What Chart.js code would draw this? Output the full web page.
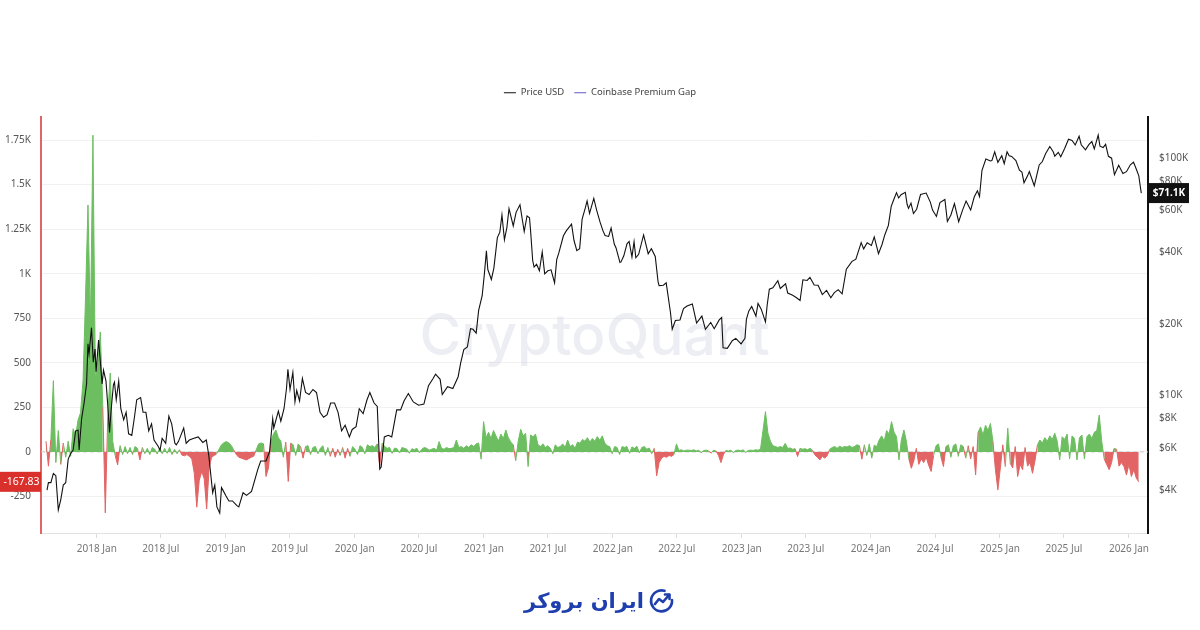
<!DOCTYPE html>
<html lang="en">
<head>
<meta charset="UTF-8">
<title>Coinbase Premium Gap - Price USD</title>
<script src="https://cdn.jsdelivr.net/npm/chart.js"></script>
<style>
  body { margin: 0; background: #fff; }
  .wrap { position: relative; width: 1200px; height: 630px; }
  .brand {
    position: absolute; left: 0; top: 587px; width: 1200px;
    display: flex; justify-content: center; align-items: center; gap: 4px;
    direction: rtl; color: #1f3fae;
    font-family: "DejaVu Sans", sans-serif; font-weight: bold; font-size: 21px;
  }
</style>
</head>
<body>
<div class="wrap">
  <canvas id="premium_gap" width="1200" height="630"></canvas>
  <div class="brand">
    <svg width="28" height="28" viewBox="0 0 28 28" fill="none" stroke="#1f3fae" stroke-width="2.6" stroke-linecap="round" stroke-linejoin="round">
      <path d="M24 13A10.5 10.5 0 1 1 16.5 3.8"/>
      <path d="M7 17l4-5 4 3 6-7"/>
      <path d="M17 7.5h4.5v4.5"/>
    </svg>
    <span>ایران بروکر</span>
  </div>
</div>
<script>
// BTC price (USD)
const priceDates = [
  '2017-08-13','2017-08-17','2017-08-24','2017-08-31','2017-09-07','2017-09-14','2017-09-21','2017-09-28',
  '2017-10-05','2017-10-12','2017-10-19','2017-10-26','2017-11-02','2017-11-09','2017-11-12','2017-11-19',
  '2017-11-26','2017-12-03','2017-12-07','2017-12-10','2017-12-17','2017-12-22','2017-12-27','2017-12-30',
  '2018-01-06','2018-01-10','2018-01-16','2018-01-20','2018-01-27','2018-02-01','2018-02-06','2018-02-10',
  '2018-02-17','2018-02-20','2018-02-25','2018-03-04','2018-03-10','2018-03-18','2018-03-25','2018-04-01',
  '2018-04-10','2018-04-18','2018-04-24','2018-05-05','2018-05-12','2018-05-20','2018-05-28','2018-06-05',
  '2018-06-12','2018-06-24','2018-06-29','2018-07-05','2018-07-15','2018-07-24','2018-08-01','2018-08-10',
  '2018-08-14','2018-08-20','2018-09-04','2018-09-11','2018-09-20','2018-10-01','2018-10-15','2018-10-28',
  '2018-11-07','2018-11-14','2018-11-20','2018-11-25','2018-12-01','2018-12-07','2018-12-15','2018-12-20',
  '2018-12-24','2019-01-01','2019-01-10','2019-01-20','2019-02-01','2019-02-07','2019-02-19','2019-03-01',
  '2019-03-15','2019-04-02','2019-04-10','2019-04-25','2019-05-05','2019-05-14','2019-05-17','2019-05-30',
  '2019-06-06','2019-06-15','2019-06-22','2019-06-26','2019-07-02','2019-07-10','2019-07-16','2019-07-21',
  '2019-07-29','2019-08-06','2019-08-15','2019-08-25','2019-09-05','2019-09-15','2019-09-25','2019-10-05',
  '2019-10-15','2019-10-25','2019-11-05','2019-11-15','2019-11-25','2019-12-05','2019-12-17','2019-12-25',
  '2020-01-05','2020-01-14','2020-01-25','2020-02-05','2020-02-13','2020-02-25','2020-03-05','2020-03-12',
  '2020-03-16','2020-03-25','2020-04-05','2020-04-15','2020-04-29','2020-05-10','2020-05-20','2020-06-01',
  '2020-06-15','2020-06-30','2020-07-15','2020-07-28','2020-08-10','2020-08-17','2020-08-30','2020-09-05',
  '2020-09-20','2020-10-05','2020-10-20','2020-10-27','2020-11-05','2020-11-15','2020-11-24','2020-12-01',
  '2020-12-10','2020-12-17','2020-12-27','2021-01-02','2021-01-08','2021-01-12','2021-01-22','2021-01-29',
  '2021-02-08','2021-02-15','2021-02-21','2021-02-28','2021-03-07','2021-03-13','2021-03-25','2021-04-02',
  '2021-04-13','2021-04-25','2021-05-03','2021-05-10','2021-05-13','2021-05-19','2021-05-23','2021-05-30',
  '2021-06-07','2021-06-15','2021-06-22','2021-07-01','2021-07-10','2021-07-20','2021-07-26','2021-08-01',
  '2021-08-14','2021-08-22','2021-09-06','2021-09-13','2021-09-21','2021-09-29','2021-10-06','2021-10-15',
  '2021-10-20','2021-10-27','2021-11-08','2021-11-16','2021-11-26','2021-12-04','2021-12-10','2021-12-20',
  '2021-12-27','2022-01-05','2022-01-10','2022-01-21','2022-01-24','2022-02-01','2022-02-10','2022-02-16',
  '2022-02-24','2022-03-02','2022-03-07','2022-03-15','2022-03-29','2022-04-11','2022-04-20','2022-05-01',
  '2022-05-09','2022-05-12','2022-05-24','2022-06-01','2022-06-13','2022-06-18','2022-06-27','2022-07-10',
  '2022-07-20','2022-07-30','2022-08-14','2022-08-26','2022-09-10','2022-09-20','2022-10-05','2022-10-15',
  '2022-10-29','2022-11-05','2022-11-09','2022-11-21','2022-12-05','2022-12-15','2022-12-30','2023-01-10',
  '2023-01-14','2023-01-21','2023-01-29','2023-02-10','2023-02-16','2023-02-25','2023-03-09','2023-03-14',
  '2023-03-20','2023-03-30','2023-04-13','2023-04-20','2023-05-05','2023-05-11','2023-05-25','2023-06-05',
  '2023-06-15','2023-06-23','2023-07-05','2023-07-13','2023-07-25','2023-08-05','2023-08-17','2023-08-29',
  '2023-09-10','2023-09-20','2023-10-01','2023-10-12','2023-10-24','2023-11-09','2023-11-20','2023-12-05',
  '2023-12-12','2023-12-22','2024-01-03','2024-01-11','2024-01-23','2024-02-02','2024-02-10','2024-02-20',
  '2024-02-28','2024-03-05','2024-03-14','2024-03-20','2024-03-27','2024-04-08','2024-04-13','2024-04-17',
  '2024-04-24','2024-05-01','2024-05-10','2024-05-21','2024-06-06','2024-06-18','2024-06-24','2024-07-05',
  '2024-07-15','2024-07-29','2024-08-05','2024-08-15','2024-08-25','2024-09-06','2024-09-17','2024-09-27',
  '2024-10-10','2024-10-20','2024-10-29','2024-11-04','2024-11-11','2024-11-22','2024-12-05','2024-12-09',
  '2024-12-17','2024-12-26','2025-01-06','2025-01-13','2025-01-21','2025-01-27','2025-02-03','2025-02-15',
  '2025-02-25','2025-03-04','2025-03-10','2025-03-20','2025-03-25','2025-04-08','2025-04-15','2025-04-22',
  '2025-05-01','2025-05-10','2025-05-22','2025-06-01','2025-06-05','2025-06-15','2025-06-22','2025-07-03',
  '2025-07-14','2025-07-24','2025-08-02','2025-08-13','2025-08-19','2025-08-31','2025-09-10','2025-09-18',
  '2025-09-25','2025-10-06','2025-10-11','2025-10-20','2025-10-27','2025-11-04','2025-11-13','2025-11-21',
  '2025-12-03','2025-12-15','2025-12-25','2026-01-05','2026-01-14','2026-01-22','2026-01-29','2026-02-01',
  '2026-02-05'
];
const priceValues = [
  4000, 4300, 4300, 4700, 4600, 3300, 3650, 4200,
  4300, 5400, 5700, 5900, 7100, 7150, 5900, 8000,
  9300, 11200, 16500, 15000, 19300, 13800, 15700, 12600,
  17100, 14500, 11200, 12800, 11500, 9100, 7000, 8500,
  11100, 11400, 9600, 11500, 8800, 7900, 8500, 6900,
  6800, 8200, 9600, 9800, 8500, 8500, 7100, 7600,
  6500, 6100, 5900, 6600, 6300, 8200, 7600, 6300,
  6200, 6400, 7300, 6300, 6500, 6600, 6700, 6350,
  6500, 5600, 4600, 3900, 4200, 3400, 3200, 4100,
  4000, 3800, 3600, 3600, 3450, 3400, 3900, 3800,
  3950, 4900, 5300, 5300, 5800, 8000, 7300, 8600,
  7800, 8800, 10700, 12900, 10600, 12500, 9400, 10500,
  9500, 11800, 10300, 10100, 10600, 10300, 8500, 8100,
  8300, 9300, 9300, 8500, 7100, 7500, 6700, 7200,
  7400, 8800, 8400, 9600, 10300, 9300, 9000, 4900,
  5000, 6700, 6800, 6700, 8700, 8700, 9500, 10200,
  9400, 9100, 9200, 11000, 11800, 12300, 11700, 10100,
  10900, 10700, 12000, 13700, 15600, 16000, 19100, 19000,
  18300, 22800, 26300, 32200, 40600, 33900, 30800, 34300,
  46200, 48700, 57500, 45200, 51000, 61200, 51700, 59000,
  63500, 49000, 57000, 56000, 49500, 37000, 34700, 35700,
  33500, 40200, 32500, 33500, 33800, 29800, 37300, 39800,
  47000, 49300, 52600, 44900, 40700, 41500, 55300, 61600,
  65900, 58400, 67500, 60300, 53500, 49300, 47100, 46700,
  50700, 43400, 41800, 36300, 36500, 38700, 43500, 44500,
  38300, 44400, 38000, 39300, 47400, 39500, 41500, 38500,
  30100, 29000, 29100, 29800, 22400, 19000, 20700, 20800,
  23200, 23800, 24300, 20200, 21600, 19000, 20300, 19100,
  20800, 21300, 15900, 15800, 17000, 17400, 16500, 17400,
  20900, 22700, 23700, 21600, 24400, 23100, 20400, 24100,
  28000, 28400, 30400, 28200, 29500, 27000, 26400, 25800,
  25100, 30700, 30500, 31400, 29200, 29100, 26600, 27700,
  25800, 27100, 27900, 26800, 34000, 36700, 37500, 44000,
  41400, 43900, 42800, 46500, 39500, 43200, 47500, 52000,
  62500, 66000, 71400, 67800, 70000, 71600, 63800, 61300,
  64500, 58300, 60800, 70100, 71100, 65000, 60300, 56700,
  64800, 66800, 54000, 57500, 64200, 53900, 60300, 65800,
  60300, 68400, 72700, 68800, 88700, 98900, 97000, 97400,
  106100, 95800, 102100, 94500, 106100, 102000, 101400, 97500,
  88700, 87200, 78600, 84000, 87500, 76300, 84500, 93400,
  96500, 104000, 111600, 105800, 101600, 105500, 101000, 109500,
  119800, 118400, 113300, 123300, 113500, 108200, 113900, 117100,
  109000, 124700, 112000, 110500, 114000, 101500, 99700, 85000,
  93000, 86000, 87500, 93500, 96000, 89500, 84000, 78000,
  71100
];

// Coinbase Premium Gap, one reading per week from gapStart
const gapStart = '2017-08-10';
const gapValues = [
  60, -80, 70, 400, -60, 120, -70, 50, -30, 60, -25, 130, 90, 180, 220, 400, 863, 1385, 700, 1777, 400, 500, 673, 250, -342, 200,
  443, 60, -20, -73, 35, -15, 30, -10, 25, -15, 30, 20, -45, 25, -10, 20, -15, 25, 15, -12, 22, -10, 20, -8, 25, -15,
  15, -10, 12, -18, -22, -15, -25, -40, -120, -310, -160, -110, -150, -320, -90, -30, -20, -12, 15, 40, 52, 58, 50, 35, 10, -15,
  -30, -35, -40, -45, -38, -30, -25, 10, 45, 50, 45, -138, -90, 60, 100, 123, 80, 60, -30, 55, -166, 50, 40, -20, 45, 30,
  -35, 30, 35, -15, 25, 30, -10, 20, 35, -20, 25, -25, 20, -30, 15, -20, 25, -35, 20, -25, 30, 15, -15, 35, 25, -10,
  40, 30, 35, 25, 45, -80, 50, 30, 20, 25, -8, 22, 18, -5, 25, 20, 15, -8, 18, 12, 20, -5, 15, 25, 20, 10,
  15, 20, 10, 58, 20, 15, 25, 18, 20, 25, 67, 25, 30, 20, 35, 25, 40, 30, 45, 50, -41, 170, 80, 110, 75, 120,
  90, 60, 100, 75, 123, 80, 55, 40, -49, 60, 127, 90, 105, -82, 95, 85, 100, 40, 30, 45, 25, 35, 20, -10, 40, 25,
  30, 45, 25, 67, 30, 40, 20, 55, 48, 70, 60, 80, 55, 75, 60, 86, 65, 90, 50, 35, 30, -10, 30, 25, -15, 30,
  25, 30, -8, 28, 20, 32, -5, 25, 30, 15, 22, -10, 20, -134, -60, -35, -25, -30, -20, -25, -15, 45, 8, 12, 5, 10,
  10, 8, 12, 5, 10, -5, 8, 10, 6, -8, 10, 5, -20, -60, -15, 8, 5, 10, -5, 8, 10, 6, 12, -4, 8, 10,
  8, 12, 10, 15, 120, 226, 105, 60, 35, 30, 25, 30, 25, 48, 20, 22, 15, 18, -26, 20, 15, 18, 12, 20, 10, -17,
  -30, -45, -25, -35, -20, 15, 25, 30, 20, 32, 25, 30, 28, 35, 25, 30, 40, 35, -41, 40, -20, 45, -35, 38, 30, 67,
  90, 60, 120, 100, 170, 110, 86, -45, 70, 123, 60, -40, -92, -50, 20, -70, -40, -60, -30, -75, -110, -20, 35, 45, -30, -82,
  30, 40, -30, 35, 45, -25, 40, 30, -35, 35, -40, 30, -129, 110, 140, 95, 150, 120, 160, 60, -100, -213, -90, 40, -82, 133,
  -64, -90, 30, -138, -70, -100, 25, -80, -60, -120, -50, 40, 67, 50, 80, 60, 90, 70, 105, 60, -45, 85, 70, 100, -40, 90,
  75, -45, 80, 95, -40, 85, 100, 75, 110, 120, 207, 60, -40, -70, -100, -60, 20, 15, -80, -60, -82, -130, -70, -138, -100, -148,
  -167.83
];

// axis ticks
const gapTicks = [-250, 0, 250, 500, 750, 1000, 1250, 1500, 1750];
const priceTicks = [4000, 6000, 8000, 10000, 20000, 40000, 60000, 80000, 100000];
const tickYears = [2018, 2019, 2020, 2021, 2022, 2023, 2024, 2025, 2026];

const GREEN = 'rgb(108,190,96)';
const RED = 'rgb(226,100,100)';
const DAY = 86400000;
const toTime = s => Date.parse(s + 'T00:00:00Z');

const priceData = priceDates.map((d, i) => ({ x: toTime(d), y: priceValues[i] }));
const gapT0 = toTime(gapStart);
const gapData = gapValues.map((v, i) => ({ x: gapT0 + i * 7 * DAY, y: v }));

const xMin = Date.UTC(2017, 6, 27);
const xMax = Date.UTC(2026, 1, 24);
const xTicks = [];
tickYears.forEach(y => {
    [0, 6].forEach(m => {
        const t = Date.UTC(y, m, 1);
        if (t > xMin && t < xMax) xTicks.push(t);
    });
});

function formatGap(v) {
    if (Math.abs(v) >= 1000) return (v / 1000) + 'K';
    return String(v);
}

// room under the legend
const legendGap = {
    id: 'legendGap',
    beforeInit(chart) {
        const origFit = chart.legend.fit;
        chart.legend.fit = function fit() {
            origFit.bind(chart.legend)();
            this.height += 9;
        };
    }
};

// watermark and dashed zero line
const backdrop = {
    id: 'backdrop',
    beforeDatasetsDraw(chart) {
        const { ctx, chartArea } = chart;
        const cx = (chartArea.left + chartArea.right) / 2;
        const cy = chart.scales.yPrice.getPixelForValue(17500);
        ctx.save();
        ctx.fillStyle = 'rgba(205,208,222,0.36)';
        ctx.font = '500 57px Inter, "Noto Sans", sans-serif';
        ctx.textAlign = 'center';
        ctx.textBaseline = 'middle';
        ctx.fillText('CryptoQuant', cx, cy);

        const y0 = chart.scales.yGap.getPixelForValue(0);
        ctx.strokeStyle = '#c9c9c9';
        ctx.lineWidth = 1;
        ctx.setLineDash([4, 3]);
        ctx.beginPath();
        ctx.moveTo(chartArea.left, y0);
        ctx.lineTo(chartArea.right, y0);
        ctx.stroke();
        ctx.restore();
    }
};

// boxes with the last value of each series on its axis
const lastValues = {
    id: 'lastValues',
    afterDraw(chart) {
        const { ctx, chartArea } = chart;
        const lastGap = gapValues[gapValues.length - 1];
        const lastPrice = priceValues[priceValues.length - 1];
        const yg = chart.scales.yGap.getPixelForValue(lastGap);
        const yp = chart.scales.yPrice.getPixelForValue(lastPrice);
        ctx.save();
        ctx.textBaseline = 'middle';

        ctx.fillStyle = '#d9302c';
        ctx.fillRect(0, yg - 10, chartArea.left, 20);
        ctx.fillStyle = '#fff';
        ctx.font = '10.5px "Noto Sans", sans-serif';
        ctx.textAlign = 'center';
        ctx.fillText(lastGap.toFixed(2), chartArea.left / 2 + 1, yg);

        ctx.fillStyle = '#111';
        ctx.fillRect(chartArea.right + 1, yp - 10, 40, 20);
        ctx.fillStyle = '#fff';
        ctx.font = 'bold 10px "Noto Sans", sans-serif';
        ctx.fillText('$' + (lastPrice / 1000).toFixed(1) + 'K', chartArea.right + 21, yp);
        ctx.restore();
    }
};

Chart.defaults.font.family = '"Noto Sans", sans-serif';
Chart.defaults.font.size = 10;
Chart.defaults.color = '#666';

const ctx = document.getElementById('premium_gap').getContext('2d');
const chart = new Chart(ctx, {
    type: 'line',
    data: {
        datasets: [
            {
                label: 'Price USD',
                data: priceData,
                yAxisID: 'yPrice',
                borderColor: '#111',
                borderWidth: 1.1,
                pointRadius: 0,
                fill: false,
                order: 0
            },
            {
                label: 'Coinbase Premium Gap',
                data: gapData,
                yAxisID: 'yGap',
                borderColor: '#6257c9',
                borderWidth: 1,
                pointRadius: 0,
                fill: { target: 'origin', above: GREEN, below: RED },
                segment: {
                    borderColor: c => (c.p0.parsed.y + c.p1.parsed.y) >= 0 ? GREEN : RED
                },
                order: 1
            }
        ]
    },
    options: {
        responsive: false,
        animation: false,
        layout: { padding: { top: 78, left: 0, right: 0, bottom: 0 } },
        plugins: {
            legend: {
                position: 'top',
                labels: {
                    usePointStyle: true,
                    pointStyle: 'line',
                    pointStyleWidth: 12,
                    padding: 10,
                    color: '#444',
                    font: { size: 9.5 }
                }
            },
            tooltip: { enabled: false }
        },
        scales: {
            x: {
                type: 'linear',
                min: xMin,
                max: xMax,
                afterBuildTicks: scale => { scale.ticks = xTicks.map(v => ({ value: v })); },
                afterFit: scale => { scale.height = 97; },
                ticks: {
                    autoSkip: false,
                    maxRotation: 0,
                    padding: 5,
                    color: '#777',
                    callback: v => {
                        const d = new Date(v);
                        return d.getUTCFullYear() + (d.getUTCMonth() === 0 ? ' Jan' : ' Jul');
                    }
                },
                grid: { drawOnChartArea: false, tickLength: 5, color: '#ddd' },
                border: { color: '#e2e2e2' }
            },
            yGap: {
                type: 'linear',
                position: 'left',
                min: -455,
                max: 1882,
                afterBuildTicks: scale => { scale.ticks = gapTicks.map(v => ({ value: v })); },
                afterFit: scale => { scale.width = 41; },
                ticks: { padding: 10, color: '#555', callback: v => formatGap(v) },
                grid: { color: '#f1f1f1', drawTicks: false },
                border: { color: '#e06666', width: 2 }
            },
            yPrice: {
                type: 'logarithmic',
                position: 'right',
                min: 2640,
                max: 149300,
                afterBuildTicks: scale => { scale.ticks = priceTicks.map(v => ({ value: v })); },
                afterFit: scale => { scale.width = 52; },
                ticks: { padding: 11, color: '#555', callback: v => '$' + (v / 1000) + 'K' },
                grid: { drawOnChartArea: false, drawTicks: false },
                border: { color: '#111', width: 2 }
            }
        }
    },
    plugins: [legendGap, backdrop, lastValues]
});
</script>
</body>
</html>
